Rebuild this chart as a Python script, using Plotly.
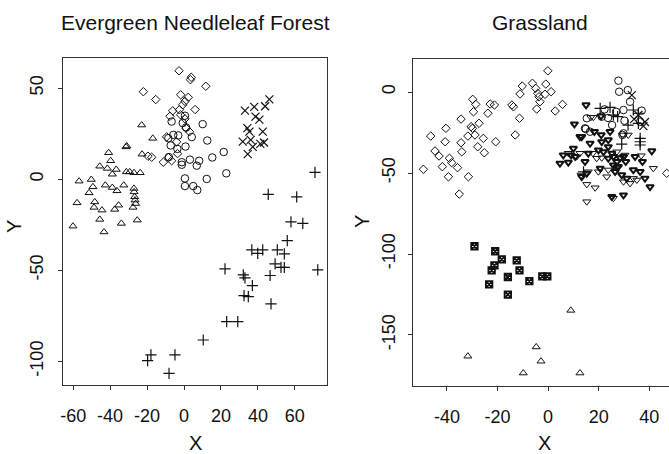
import plotly.graph_objects as go

# ---------------- Evergreen Needleleaf Forest (left panel) ----------------
enf_tri_x = [-22.9, -16.9, -31.4, -31.0, -40.8, -45.6, -39.7, -41.5, -36.7, -38.8, -31.2, -29.4, -27.1, -23.7,
             -22.7, -56.8, -50.2, -49.3, -51.4, -42.6, -38.8, -36.3, -32.6, -27.1, -26.7, -26.2, -27.6, -57.9,
             -48.3, -48.7, -44.4, -37.5, -35.4, -45.6, -33.9, -25.3, -60.1, -43.3, -27.0, -26.5]
enf_tri_y = [29.7, 22.4, 17.7, 18.2, 14.5, 7.1, 10.1, 5.9, 5.3, 2.7, 4.0, 4.0, 3.5, 3.5,
             13.7, -1.1, -0.2, -4.2, -7.5, -3.3, -4.6, -6.4, -3.3, -5.1, -9.7, -13.4, -15.5, -13.0,
             -12.5, -15.5, -17.0, -16.6, -14.3, -22.1, -24.3, -22.5, -25.8, -29.0, -7.0, -11.5]

enf_dia_x = [-2.7, 3.9, 3.5, 11.8, -22.0, -15.3, -1.8, 2.3, 0.5, -0.7, 6.0, -6.1, -2.5, -1.8, 0.5, -7.6, 1.1,
             -11.2, -6.7, -8.5, -19.5, -17.5, -9.4, -4.0, 3.0, -3.5]
enf_dia_y = [59.5, 55.9, 54.6, 51.0, 48.0, 43.7, 46.3, 44.9, 42.7, 40.8, 38.2, 37.5, 38.1, 35.3, 33.1, 34.5, 28.0,
             9.3, 10.1, 11.9, 12.6, 12.0, 23.2, 20.5, 26.0, 14.0]

enf_cir_x = [-6.7, 0.5, -0.7, 10.1, 1.1, -5.8, -3.1, -8.5, 4.2, 12.6, -7.2, 0.8, -3.6, 21.5, 15.3, -8.2,
             -1.2, -1.2, 3.2, 8.2, 6.9, 22.9, 12.3, 0.5, 0.5, 5.0, 7.2]
enf_cir_y = [31.6, 34.8, 30.8, 30.2, 28.4, 24.3, 24.0, 22.5, 23.1, 21.2, 18.5, 17.9, 16.6, 14.9, 11.9, 12.1,
             9.3, 7.9, 10.7, 10.1, 7.4, 3.2, 0.1, 0.4, -3.8, -3.8, -6.0]

enf_x_x = [33.0, 38.0, 43.9, 46.2, 38.7, 40.8, 34.3, 35.4, 42.6, 31.8, 36.1, 37.2, 41.3, 43.3, 34.5]
enf_x_y = [37.6, 39.7, 40.0, 43.8, 34.3, 32.7, 28.0, 26.1, 26.1, 20.6, 21.6, 17.7, 19.4, 20.1, 13.7]

enf_plus_x = [70.9, 45.6, 61.0, 57.9, 64.3, 55.9, 36.7, 39.9, 42.6, 50.5, 54.3, 49.3, 52.5, 54.3, 22.2,
              72.4, 32.1, 33.0, 46.6, 37.0, 32.5, 34.8, 47.1, 23.1, 29.1, 10.4, -17.9, -19.7, -4.9, -8.1]
enf_plus_y = [3.7, -8.4, -9.7, -23.5, -24.3, -33.7, -38.8, -40.7, -38.8, -38.8, -41.0, -46.5, -48.4, -48.4, -49.3,
              -49.8, -52.6, -54.2, -52.9, -58.4, -63.9, -64.5, -68.5, -78.2, -78.2, -88.3, -96.5, -99.6, -96.5, -106.6]

# ---------------- Grassland (right panel) ----------------
gr_dia_x = [-49.3, -46.4, -44.7, -43.1, -41.8, -39.4, -39.0, -38.1, -35.8, -35.1, -40.7, -40.4, -34.4, -34.4,
            -34.1, -31.7, -31.5, -30.4, -29.9, -29.8, -28.6, -29.5, -28.9, -27.3, -27.8, -25.2, -25.6, -23.8,
            -22.9, -21.2, -20.7, -14.3, -13.7, -13.0, -11.3, -11.1, -10.2, -6.2, -4.9, -4.1, -3.6, -3.2, -4.5,
            -0.9, -1.2, -0.1, 1.2, 2.8, 5.7, 46.9]
gr_dia_y = [-47.7, -27.2, -36.4, -39.5, -46.1, -52.3, -40.9, -43.6, -46.7, -63.0, -30.7, -22.4, -16.7, -31.3,
            -36.9, -27.2, -52.3, -21.4, -22.4, -4.5, -7.6, -12.2, -26.5, -19.3, -33.8, -37.5, -28.6, -13.1,
            -7.4, -8.0, -30.7, -8.0, -9.1, -26.5, -16.2, -1.2, 3.7, 5.4, 2.3, -0.8, -2.9, -6.0, -10.5,
            4.9, -1.4, 13.1, 0.2, -11.7, -7.6, -50.2]

gr_cir_x = [27.8, 28.1, 31.5, 32.4, 22.3, 29.8, 37.0, 15.3, 21.2, 14.6, 29.4, 26.9, 30.2, 36.4, 16.6, 23.7,
            25.3, 14.9, 29.8]
gr_cir_y = [7.0, 0.2, 1.2, -6.0, -10.7, -11.1, -11.5, -16.2, -15.2, -22.4, -26.5, -12.2, -17.7, -18.3, -24.5,
            -16.0, -20.4, -22.8, -25.5]

gr_plus_x = [20.6, 33.7, 35.7, 36.4, 36.4, 36.4, 29.1, 27.5, 35.7, 14.0, 25.8, 31.6, 24.5]
gr_plus_y = [-10.1, -11.1, -13.1, -28.6, -30.7, -32.7, -32.1, -15.2, -19.3, -49.2, -14.2, -20.4, -9.5]

gr_x_x = [33.1, 35.7, 37.7, 34.0, 38.3]
gr_x_y = [-1.9, -14.2, -21.0, -16.7, -18.5]

gr_tdb_x = [13.3, 18.3, 16.6, 21.2, 23.8, 23.8, 10.0, 9.1, 8.0, 14.6, 15.9, 19.9, 21.9, 23.8, 25.8, 27.2, 25.8,
            27.8, 29.8, 30.7, 26.5, 29.1, 31.1, 13.3, 15.3, 34.4, 37.3, 33.7, 36.4, 38.3, 40.3, 41.0, 29.8,
            25.2, 20.6, 10.7, 15.0, 10.4, 4.7, 6.0, 24.5, 20.9, 28.5, 25.2, 12.6, 21.0, 27.3]
gr_tdb_y = [-27.6, -24.5, -31.7, -30.7, -29.6, -33.8, -34.8, -38.9, -43.4, -43.0, -37.8, -35.8, -36.9, -40.9,
            -39.9, -43.0, -45.1, -46.1, -39.9, -43.0, -49.2, -51.2, -53.3, -52.3, -50.2, -39.9, -43.0, -48.1,
            -49.2, -53.3, -58.5, -36.4, -63.6, -64.6, -47.1, -39.9, -8.0, -19.8, -44.0, -38.9, -24.5, -14.8,
            -40.7, -37.8, -27.6, -26.5, -46.5]

gr_tdo_x = [41.6, 36.8, 33.7, 29.8, 15.3, 18.6, 15.3, 19.9, 23.2, 11.3, 17.7, 19.2, 21.2, 31.7, 17.9, 12.6,
            25.8, 32.4, 35.1, 23.8, 13.0, 15.9, 30.4, 27.2, 8.0, 16.9, 29.4]
gr_tdo_y = [-47.1, -39.3, -53.3, -55.4, -57.0, -59.1, -67.7, -49.2, -52.3, -39.9, -37.8, -40.9, -40.6, -26.5,
            -15.6, -37.8, -65.6, -56.4, -54.3, -48.1, -51.2, -49.2, -38.9, -36.9, -37.8, -15.6, -26.5]

gr_box_x = [-29.1, -20.9, -18.3, -12.4, -21.2, -22.3, -11.3, -15.9, -7.4, -2.3, -0.3, -23.3, -15.9]
gr_box_y = [-95.2, -98.3, -103.3, -103.9, -107.0, -110.1, -110.1, -114.2, -116.7, -113.8, -113.8, -118.7, -125.1]

gr_tri_x = [-31.7, -4.7, -2.8, -9.8, 9.0, 12.6]
gr_tri_y = [-163.1, -157.4, -166.2, -173.5, -134.8, -173.5]

# ---------------- ticks / text ----------------
enf_xticks = [-60, -40, -20, 0, 20, 40, 60]
enf_xtext = ["-60", "-40", "-20", "0", "20", "40", "60"]
enf_yticks = [-100, -50, 0, 50]
enf_ytext = ["-100", "-50", "0", "50"]
gr_xticks = [-40, -20, 0, 20, 40]
gr_xtext = ["-40", "-20", "0", "20", "40"]
gr_yticks = [-150, -100, -50, 0]
gr_ytext = ["-150", "-100", "-50", "0"]
titles = ["Evergreen Needleleaf Forest", "Grassland"]

FONT = "Liberation Sans, Arial, Helvetica, sans-serif"
INK = "#111111"
W, H = 669, 454


def px(v):
    return v / W


def py(v):
    return 1 - v / H


fig = go.Figure()


def add(xs, ys, symbol, size, lw, xa, ya):
    fig.add_trace(go.Scatter(
        x=xs, y=ys, mode="markers", xaxis=xa, yaxis=ya,
        marker=dict(symbol=symbol, size=size, color=INK, line=dict(color=INK, width=lw)),
        hoverinfo="skip", showlegend=False))


add(enf_tri_x, enf_tri_y, "triangle-up-open", 7, 1, "x", "y")
add(enf_dia_x, enf_dia_y, "diamond-open", 6.5, 1, "x", "y")
add(enf_cir_x, enf_cir_y, "circle-open", 7.5, 1, "x", "y")
add(enf_x_x, enf_x_y, "x-thin-open", 8, 1.2, "x", "y")
add(enf_plus_x, enf_plus_y, "cross-thin-open", 8, 1.2, "x", "y")

add(gr_dia_x, gr_dia_y, "diamond-open", 6.5, 1, "x2", "y2")
add(gr_cir_x, gr_cir_y, "circle-open", 7.5, 1, "x2", "y2")
add(gr_plus_x, gr_plus_y, "cross-thin-open", 8, 1.2, "x2", "y2")
add(gr_x_x, gr_x_y, "x-thin-open", 8, 1.2, "x2", "y2")
add(gr_tdo_x, gr_tdo_y, "triangle-down-open", 7, 1, "x2", "y2")
add(gr_tdb_x, gr_tdb_y, "triangle-down-open", 6.5, 2.0, "x2", "y2")
add(gr_box_x, gr_box_y, "square-x-open", 6.5, 1.8, "x2", "y2")
add(gr_tri_x, gr_tri_y, "triangle-up-open", 7, 1, "x2", "y2")

axis_common = dict(showgrid=False, zeroline=False, showline=True, linecolor="#333333", linewidth=1,
                   ticks="outside", ticklen=4, tickcolor="#333333", tickwidth=1,
                   tickfont=dict(family=FONT, size=18, color=INK), automargin=False)

fig.update_layout(
    width=W, height=H, margin=dict(l=0, r=0, t=0, b=0),
    paper_bgcolor="white", plot_bgcolor="white", showlegend=False,
    xaxis=dict(domain=[px(63), px(327)], range=[-65.5, 77.4], anchor="y", mirror=True,
               tickvals=enf_xticks, ticktext=enf_xtext, ticklabelstandoff=10, **axis_common),
    yaxis=dict(domain=[py(385), py(58)], range=[-113, 66.5], anchor="x", mirror=True,
               tickvals=enf_yticks, ticktext=enf_ytext, tickangle=-90, ticklabelstandoff=8, **axis_common),
    xaxis2=dict(domain=[px(413), 1.0], range=[-53.4, 47.8], anchor="y2", mirror=True,
                tickvals=gr_xticks, ticktext=gr_xtext, ticklabelstandoff=10, **axis_common),
    yaxis2=dict(domain=[py(386), py(59)], range=[-181.5, 20.4], anchor="x2", mirror=False,
                tickvals=gr_yticks, ticktext=gr_ytext, tickangle=-90, ticklabelstandoff=6, **axis_common),
)

ann = [
    dict(text=titles[0], x=px(195), y=py(23), size=21, angle=0),
    dict(text=titles[1], x=px(540), y=py(23), size=21, angle=0),
    dict(text="X", x=px(195), y=py(443), size=20, angle=0),
    dict(text="X", x=px(544), y=py(443), size=20, angle=0),
    dict(text="Y", x=px(14), y=py(227), size=20, angle=-90),
    dict(text="Y", x=px(362), y=py(222), size=20, angle=-90),
]
for a in ann:
    fig.add_annotation(text=a["text"], x=a["x"], y=a["y"], xref="paper", yref="paper",
                       xanchor="center", yanchor="middle", showarrow=False, textangle=a["angle"],
                       font=dict(family=FONT, size=a["size"], color=INK))

fig.write_html("out.html", config={"displayModeBar": False},
               post_script="document.body.style.margin='0px';document.body.style.padding='0px';")
